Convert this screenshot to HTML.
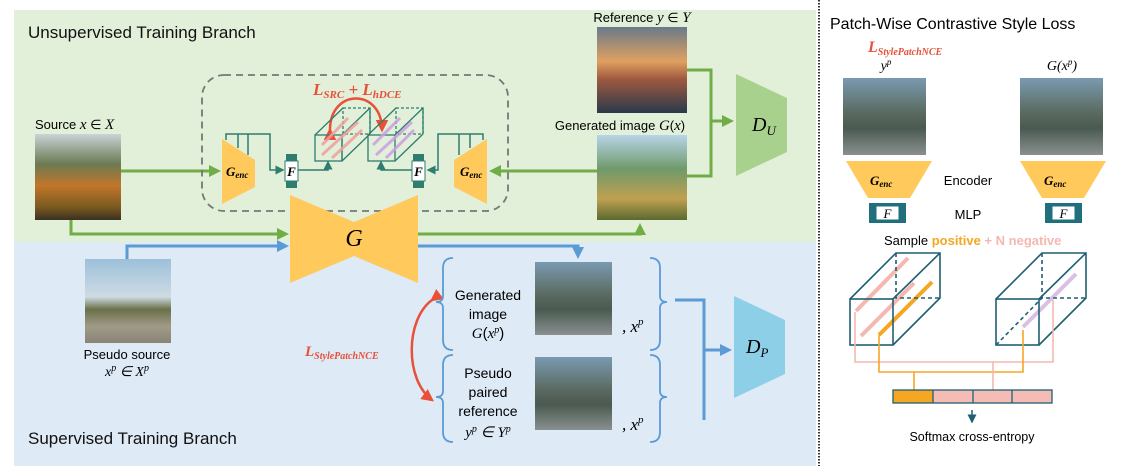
<!DOCTYPE html>
<html><head><meta charset="utf-8"><style>
html,body{margin:0;padding:0;background:#fff;}
svg{display:block;font-family:"Liberation Sans",sans-serif;}
.m{font-family:"Liberation Serif",serif;font-style:italic;}
</style></head><body>
<svg width="1141" height="466" viewBox="0 0 1141 466" xmlns="http://www.w3.org/2000/svg">
<defs>
<marker id="ag" markerWidth="4" markerHeight="4" refX="3" refY="2" orient="auto"><path d="M0,0 L4,2 L0,4z" fill="#70ad47"/></marker>
<marker id="ab" markerWidth="4" markerHeight="4" refX="3" refY="2" orient="auto"><path d="M0,0 L4,2 L0,4z" fill="#5b9bd5"/></marker>
<marker id="at" markerWidth="6" markerHeight="6" refX="5" refY="3" orient="auto"><path d="M0,0 L6,3 L0,6z" fill="#2e7d6e"/></marker>
<marker id="ar" markerWidth="5" markerHeight="5" refX="4" refY="2.5" orient="auto"><path d="M0,0 L5,2.5 L0,5z" fill="#e8503a"/></marker>
<marker id="ad" markerWidth="6" markerHeight="6" refX="5" refY="3" orient="auto"><path d="M0,0 L6,3 L0,6z" fill="#1f5f73"/></marker>
<linearGradient id="p1" x1="0" y1="0" x2="0" y2="1"><stop offset="0" stop-color="#c9d3d6"/><stop offset=".35" stop-color="#6b7a52"/><stop offset=".6" stop-color="#c2762a"/><stop offset=".85" stop-color="#7a5a20"/><stop offset="1" stop-color="#3a3020"/></linearGradient>
<linearGradient id="p2" x1="0" y1="0" x2="0" y2="1"><stop offset="0" stop-color="#6a7a8a"/><stop offset=".4" stop-color="#e0a060"/><stop offset=".6" stop-color="#a05a40"/><stop offset="1" stop-color="#2a3a4a"/></linearGradient>
<linearGradient id="p3" x1="0" y1="0" x2="0" y2="1"><stop offset="0" stop-color="#b8d4e8"/><stop offset=".4" stop-color="#6f9a6a"/><stop offset=".75" stop-color="#c0a050"/><stop offset="1" stop-color="#5a6a30"/></linearGradient>
<linearGradient id="p4" x1="0" y1="0" x2="0" y2="1"><stop offset="0" stop-color="#9cc0da"/><stop offset=".45" stop-color="#cfdbe4"/><stop offset=".6" stop-color="#6a7048"/><stop offset=".8" stop-color="#a09a88"/><stop offset="1" stop-color="#8a8478"/></linearGradient>
<linearGradient id="p5" x1="0" y1="0" x2="0" y2="1"><stop offset="0" stop-color="#7a9ab0"/><stop offset=".45" stop-color="#5a6a60"/><stop offset=".65" stop-color="#4a5a50"/><stop offset="1" stop-color="#8a9090"/></linearGradient>
</defs>
<rect x="14" y="10" width="802" height="232" fill="#e2efd9"/>
<rect x="14" y="242" width="802" height="224" fill="#deeaf6"/>
<line x1="819" y1="0" x2="819" y2="466" stroke="#333" stroke-width="2" stroke-dasharray="1.5,1.5"/>
<text x="28" y="38" font-size="17" fill="#111">Unsupervised Training Branch</text>
<text x="28" y="444" font-size="17" fill="#111">Supervised Training Branch</text>

<text x="35" y="129" font-size="13">Source <tspan class="m" font-size="15">x</tspan> ∈ <tspan class="m" font-size="15">X</tspan></text>
<rect x="35" y="134" width="86" height="86" fill="url(#p1)"/>
<line x1="121" y1="171" x2="218" y2="171" stroke="#70ad47" stroke-width="3" marker-end="url(#ag)"/>
<polyline points="71,220 71,234 286,234" fill="none" stroke="#70ad47" stroke-width="3" marker-end="url(#ag)"/>
<polyline points="127,260 127,246 286,246" fill="none" stroke="#5b9bd5" stroke-width="3" marker-end="url(#ab)"/>

<rect x="202" y="75" width="306" height="136" rx="22" fill="none" stroke="#777" stroke-width="1.8" stroke-dasharray="7,5"/>
<text x="313" y="95" font-size="17" font-weight="bold" fill="#e8503a" class="m">L<tspan font-size="11" dy="3">SRC</tspan><tspan dy="-3"> + L</tspan><tspan font-size="11" dy="3">hDCE</tspan></text>
<path d="M330,130 C330,88 382,88 382,130" fill="none" stroke="#e8503a" stroke-width="2.5" marker-start="url(#ar)" marker-end="url(#ar)"/>

<polygon points="222,139 255,160 255,187 222,204" fill="#ffc95c"/>
<text x="226" y="176" font-size="13" font-weight="bold" class="m">G<tspan font-size="9" dy="2">enc</tspan></text>
<polyline points="226,140 226,134 270,134 270,170 283,170" fill="none" stroke="#2e7d6e" stroke-width="1.5" marker-end="url(#at)"/>
<line x1="238" y1="134" x2="238" y2="148" stroke="#2e7d6e" stroke-width="1.5"/>
<line x1="248" y1="134" x2="248" y2="155" stroke="#2e7d6e" stroke-width="1.5"/>
<rect x="286" y="154" width="11" height="34" fill="#2e7d6e"/><rect x="285" y="161" width="13" height="20" fill="#fff" stroke="#2e7d6e"/>
<text x="291.5" y="176" font-size="13" text-anchor="middle" class="m" font-weight="bold">F</text>
<polyline points="298,170 328,170 328,162" fill="none" stroke="#2e7d6e" stroke-width="1.5" marker-end="url(#at)"/>
<g fill="none" stroke="#2e7d6e" stroke-width="1.3">
<rect x="315" y="135" width="27" height="26"/><rect x="343" y="108" width="27" height="26" stroke-dasharray="3,2"/>
<path d="M315,135 L343,108 M342,135 L370,108 M342,161 L370,134 M370,108 L370,134"/>
<line x1="342" y1="135" x2="342" y2="161"/>
<rect x="368" y="135" width="27" height="26"/><rect x="396" y="108" width="27" height="26" stroke-dasharray="3,2"/>
<path d="M368,135 L396,108 M395,135 L423,108 M395,161 L423,134 M423,108 L423,134"/>
</g>
<g stroke="#f0a0a0" stroke-width="3" opacity=".85"><line x1="322" y1="145" x2="348" y2="118"/><line x1="322" y1="155" x2="358" y2="122"/><line x1="332" y1="158" x2="362" y2="130"/></g>
<g stroke="#c9a0e0" stroke-width="3" opacity=".85"><line x1="373" y1="145" x2="400" y2="118"/><line x1="376" y1="155" x2="412" y2="122"/><line x1="386" y1="158" x2="414" y2="130"/></g>
<polyline points="413,170 381,170 381,162" fill="none" stroke="#2e7d6e" stroke-width="1.5" marker-end="url(#at)"/>
<rect x="413" y="154" width="11" height="34" fill="#2e7d6e"/><rect x="412" y="161" width="13" height="20" fill="#fff" stroke="#2e7d6e"/>
<text x="418.5" y="176" font-size="13" text-anchor="middle" class="m" font-weight="bold">F</text>
<polygon points="487,139 454,160 454,187 487,204" fill="#ffc95c"/>
<text x="460" y="176" font-size="13" font-weight="bold" class="m">G<tspan font-size="9" dy="2">enc</tspan></text>
<polyline points="483,140 483,134 438,134 438,170 428,170" fill="none" stroke="#2e7d6e" stroke-width="1.5" marker-end="url(#at)"/>
<line x1="459" y1="134" x2="459" y2="155" stroke="#2e7d6e" stroke-width="1.5"/>
<line x1="470" y1="134" x2="470" y2="148" stroke="#2e7d6e" stroke-width="1.5"/>
<line x1="597" y1="171" x2="492" y2="171" stroke="#70ad47" stroke-width="3" marker-end="url(#ag)"/>

<polygon points="290,195 354,222 418,195 418,283 354,256 290,283" fill="#ffc95c"/>
<text x="354" y="246" font-size="24" text-anchor="middle" class="m">G</text>
<polyline points="418,234 640,234 640,226" fill="none" stroke="#70ad47" stroke-width="3" marker-end="url(#ag)"/>
<polyline points="418,246 578,246 578,256" fill="none" stroke="#5b9bd5" stroke-width="3" marker-end="url(#ab)"/>

<text x="642" y="22" font-size="13" text-anchor="middle">Reference <tspan class="m" font-size="15">y</tspan> ∈ <tspan class="m" font-size="15">Y</tspan></text>
<rect x="597" y="27" width="90" height="86" fill="url(#p2)"/>
<text x="620" y="130" font-size="13" text-anchor="middle">Generated image <tspan class="m" font-size="15">G</tspan>(<tspan class="m" font-size="15">x</tspan>)</text>
<rect x="597" y="135" width="90" height="85" fill="url(#p3)"/>
<polyline points="687,70 711,70 711,176 687,176" fill="none" stroke="#70ad47" stroke-width="3"/>
<line x1="711" y1="121" x2="731" y2="121" stroke="#70ad47" stroke-width="3" marker-end="url(#ag)"/>
<polygon points="736,74 787,98 787,152 736,176" fill="#a9d18e"/>
<text x="752" y="131" font-size="20" class="m">D<tspan font-size="13" dy="4">U</tspan></text>

<rect x="85" y="259" width="86" height="84" fill="url(#p4)"/>
<text x="127" y="359" font-size="13" text-anchor="middle">Pseudo source</text>
<text x="127" y="376" font-size="14" text-anchor="middle" class="m">x<tspan font-size="10" dy="-5">p</tspan><tspan dy="5"> ∈ X</tspan><tspan font-size="10" dy="-5">p</tspan></text>
<text x="305" y="356" font-size="15" font-weight="bold" fill="#e8503a" class="m">L<tspan font-size="10" dy="3">StylePatchNCE</tspan></text>
<path d="M432,300 C405,320 405,380 432,400" fill="none" stroke="#e8503a" stroke-width="2.5" marker-start="url(#ar)" marker-end="url(#ar)"/>
<g fill="none" stroke="#5b9bd5" stroke-width="1.8">
<path d="M453,258 Q443,258 443,268 L443,296 Q443,302 436,302 Q443,302 443,308 L443,340 Q443,350 453,350"/>
<path d="M453,355 Q443,355 443,365 L443,391 Q443,397 436,397 Q443,397 443,403 L443,432 Q443,442 453,442"/>
<path d="M650,258 Q660,258 660,268 L660,296 Q660,302 667,302 Q660,302 660,308 L660,340 Q660,350 650,350"/>
<path d="M650,355 Q660,355 660,365 L660,391 Q660,397 667,397 Q660,397 660,403 L660,432 Q660,442 650,442"/>
</g>
<g font-size="14" text-anchor="middle"><text x="488" y="300">Generated</text><text x="488" y="319">image</text><text x="488" y="338" font-size="15"><tspan class="m">G</tspan>(<tspan class="m">x</tspan><tspan class="m" font-size="10" dy="-5">p</tspan><tspan dy="5">)</tspan></text>
<text x="488" y="378">Pseudo</text><text x="488" y="397">paired</text><text x="488" y="416">reference</text><text x="488" y="437" class="m" font-size="15">y<tspan font-size="10" dy="-5">p</tspan><tspan dy="5"> ∈ Y</tspan><tspan font-size="10" dy="-5">p</tspan></text></g>
<rect x="535" y="262" width="77" height="73" fill="url(#p5)"/>
<rect x="535" y="357" width="77" height="73" fill="url(#p5)"/>
<text x="622" y="332" font-size="17" class="m">, x<tspan font-size="11" dy="-7">p</tspan></text>
<text x="622" y="430" font-size="17" class="m">, x<tspan font-size="11" dy="-7">p</tspan></text>
<polyline points="675,300 704,300 704,420" fill="none" stroke="#5b9bd5" stroke-width="3"/>
<line x1="704" y1="350" x2="729" y2="350" stroke="#5b9bd5" stroke-width="3" marker-end="url(#ab)"/>
<polygon points="734,296 785,320 785,374 734,398" fill="#8ecfe8"/>
<text x="746" y="353" font-size="20" class="m">D<tspan font-size="13" dy="4">P</tspan></text>

<text x="830" y="29" font-size="16">Patch-Wise Contrastive Style Loss</text>
<text x="868" y="52" font-size="16" font-weight="bold" fill="#e8503a" class="m">L<tspan font-size="10" dy="3">StylePatchNCE</tspan></text>
<text x="886" y="70" font-size="14" class="m" text-anchor="middle">y<tspan font-size="9" dy="-5">p</tspan></text>
<text x="1062" y="70" font-size="14" class="m" text-anchor="middle">G(x<tspan font-size="9" dy="-5">p</tspan><tspan dy="5">)</tspan></text>
<rect x="843" y="78" width="83" height="77" fill="url(#p5)"/>
<rect x="1020" y="78" width="83" height="77" fill="url(#p5)"/>
<polygon points="846,161 932,161 910,198 868,198" fill="#ffc95c"/>
<polygon points="1020,161 1106,161 1084,198 1042,198" fill="#ffc95c"/>
<text x="870" y="185" font-size="13" font-weight="bold" class="m">G<tspan font-size="9" dy="2">enc</tspan></text>
<text x="1044" y="185" font-size="13" font-weight="bold" class="m">G<tspan font-size="9" dy="2">enc</tspan></text>
<text x="968" y="185" font-size="13" text-anchor="middle">Encoder</text>
<rect x="869" y="203" width="37" height="20" fill="#1f6f7f"/><rect x="876" y="206" width="23" height="14" fill="#fff" stroke="#1f6f7f"/>
<text x="887.5" y="218" font-size="13" text-anchor="middle" class="m">F</text>
<rect x="1045" y="203" width="37" height="20" fill="#1f6f7f"/><rect x="1052" y="206" width="23" height="14" fill="#fff" stroke="#1f6f7f"/>
<text x="1063.5" y="218" font-size="13" text-anchor="middle" class="m">F</text>
<text x="968" y="219" font-size="13" text-anchor="middle">MLP</text>
<text x="884" y="245" font-size="13">Sample <tspan fill="#f5a623" font-weight="bold">positive</tspan><tspan fill="#f4b8b0" font-weight="bold"> + N negative</tspan></text>
<g stroke="#f4b8b0" stroke-width="4"><line x1="856" y1="311" x2="908" y2="258"/><line x1="861" y1="336" x2="914" y2="283"/></g>
<line x1="879" y1="335" x2="932" y2="282" stroke="#f5a623" stroke-width="4"/>
<line x1="1023" y1="327" x2="1076" y2="274" stroke="#d9c0e4" stroke-width="4"/>
<g fill="none" stroke="#1f5f73" stroke-width="1.6">
<rect x="850" y="299" width="43" height="46"/>
<path d="M850,299 L896,253 L940,253 L940,298 L893,345 M893,299 L940,253"/>
<path d="M896,253 L896,298 L940,298" stroke-dasharray="4,3"/>
<rect x="996" y="299" width="43" height="46"/>
<path d="M996,299 L1042,253 L1086,253 L1086,298 L1039,345 M1039,299 L1086,253"/>
<path d="M1042,253 L1042,298 L1086,298 M996,345 L1042,298" stroke-dasharray="4,3"/>
</g>
<polyline points="855,312 855,362 1053,362 1053,300" fill="none" stroke="#f4b8b0" stroke-width="1.6"/>
<polyline points="879,335 879,372 1023,372 1023,330" fill="none" stroke="#f5a623" stroke-width="1.6"/>
<line x1="914" y1="372" x2="914" y2="390" stroke="#f5a623" stroke-width="1.6"/>
<line x1="993" y1="362" x2="993" y2="390" stroke="#f4b8b0" stroke-width="1.6"/>
<rect x="893" y="390" width="40" height="13" fill="#f5a623"/>
<rect x="933" y="390" width="119" height="13" fill="#f4bcb4"/>
<g fill="none" stroke="#1f5f73" stroke-width="1.3"><rect x="893" y="390" width="159" height="13"/><line x1="933" y1="390" x2="933" y2="403"/><line x1="973" y1="390" x2="973" y2="403"/><line x1="1012" y1="390" x2="1012" y2="403"/></g>
<line x1="972" y1="410" x2="972" y2="422" stroke="#1f5f73" stroke-width="1.5" marker-end="url(#ad)"/>
<text x="972" y="441" font-size="12.5" text-anchor="middle">Softmax cross-entropy</text>
</svg>
</body></html>
